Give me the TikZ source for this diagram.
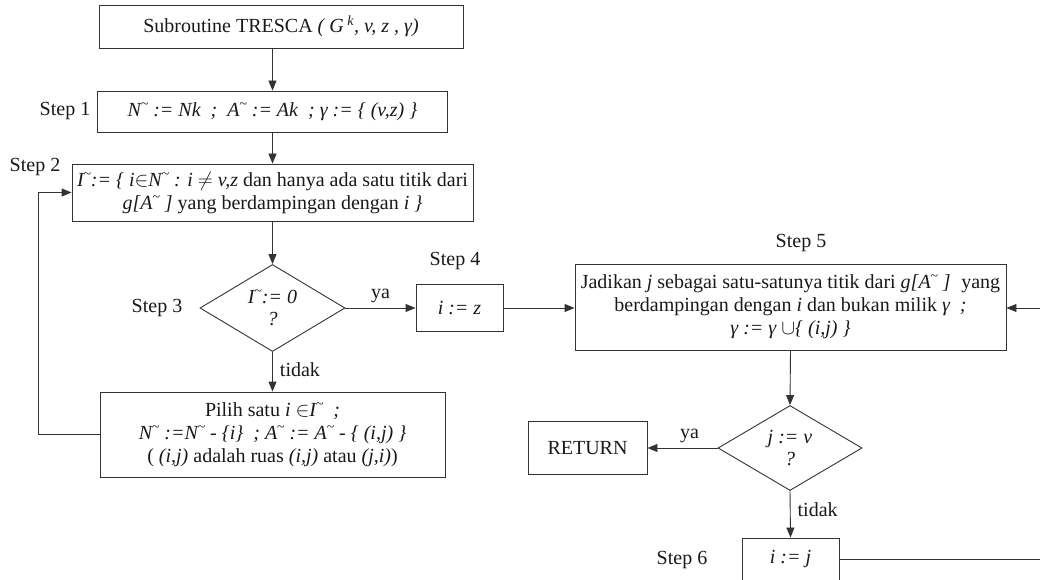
\documentclass[tikz,border=0pt]{standalone}
\usepackage{fontspec}
\setmainfont{Liberation Serif}
\usetikzlibrary{arrows.meta,shapes.geometric}
% small raised tilde placed after a letter (N~, A~, I~)
\newcommand\tld{\kern-0.3pt\raisebox{0.40em}{\fontsize{14}{14}\selectfont\textasciitilde}}
\begin{document}
\begin{tikzpicture}[x=1pt,y=-1pt,
  every node/.style={font=\fontsize{20}{23}\selectfont, text=black!90},
  box/.style={draw=black!80, line width=0.9pt, rectangle, align=center, inner sep=0pt},
  decision/.style={draw=black!80, line width=0.9pt, diamond, align=center, inner sep=0pt},
  flow/.style={draw=black!80, line width=0.9pt, -{Triangle[length=10pt,width=8pt]}},
  lbl/.style={inner sep=0pt}]
\useasboundingbox (0,0) rectangle (1040,580);
\clip (0,0) rectangle (1040,580);

% boxes and decisions
\node[box, minimum width=364, minimum height=43] (start) at (281,26.5)
  {Subroutine TRESCA \textit{( G\textsuperscript{ k}, v, z , γ)}};
\node[box, minimum width=350, minimum height=41] (s1) at (272.5,111.5)
  {\textit{N\tld{} := Nk\enspace;\enspace A\tld{} := Ak\enspace; γ := \{ (v,z) \}}};
\node[box, minimum width=401, minimum height=57] (s2) at (272.5,192.5)
  {\textit{I\tld{}:= \{ i$\in$N\tld{} : i $\neq$ v,z} dan hanya ada satu titik dari\\
   \textit{g[A\tld{} ]} yang berdampingan dengan \textit{i \}}};
\node[decision, minimum width=145, minimum height=87] (d1) at (272.5,308)
  {\textit{I\tld{}:= 0}\\[-1pt]\textit{?}};
\node[box, minimum width=87, minimum height=47] (s4) at (459.5,308) {\textit{i := z}};
\node[box, minimum width=431, minimum height=86] (s5) at (790.5,307)
  {Jadikan \textit{j} sebagai satu-satunya titik dari \textit{g[A\tld{} ]}\; yang\\
   berdampingan dengan \textit{i} dan bukan milik \textit{γ\enspace;}\\
   \textit{γ := γ $\cup$\{ (i,j) \}}};
\node[box, minimum width=345, minimum height=85] (b3) at (272.5,434.5)
  {Pilih satu \textit{i} $\in$\textit{I\tld{}\enspace;}\\
   \textit{N\tld{} :=N\tld{} - \{i\}\enspace; A\tld{} := A\tld{} - \{ (i,j) \}}\\
   ( \textit{(i,j)} adalah ruas \textit{(i,j)} atau \textit{(j,i)})};
\node[decision, minimum width=144, minimum height=85] (d2) at (790,448)
  {\textit{j := v}\\[-1pt]\textit{?}};
\node[box, minimum width=119, minimum height=53] (ret) at (587.5,448) {RETURN};
\node[box, minimum width=97, minimum height=43] (s6) at (790.5,559.5) {\textit{i := j}};

% step labels
\node[lbl] (l1) at (65,111) {Step 1};
\node[lbl] (l2) at (35,167) {Step 2};
\node[lbl] (l3) at (157,308) {Step 3};
\node[lbl] (l4) at (455,261) {Step 4};
\node[lbl] (l5) at (801,243) {Step 5};
\node[lbl] (l6) at (682,560) {Step 6};

% main flow
\draw[flow] (start.south -| s1.north) -- (s1.north);
\draw[flow] (s1) -- (s2);
\draw[flow] (s2) -- (d1);
\draw[flow] (d1.east) -- node[lbl, above=5pt] (ya1) {ya} (s4.west);
\draw[flow] (s4.east) -- (s5.west |- s4.east);
\draw[flow] (d1.south) -- node[lbl, right=7pt, pos=0.45] (t1) {tidak} (b3.north);
\draw[flow] (s5.south) -- (d2.north);
\draw[flow] (d2.west) -- node[lbl, above=5pt, pos=0.4] (ya2) {ya} (ret.east);
\draw[flow] (d2.south) -- node[lbl, right=7pt, pos=0.4] (t2) {tidak} (s6.north);

% loops back
\coordinate (lw1) at (38,434.5);
\coordinate (lw2) at (38,192.5);
\draw[flow] (b3.west) -- (lw1) -- (lw2) -- (s2.west);
\coordinate (re1) at (1060,559.5);
\coordinate (re2) at (1060,308);
\draw[flow] (s6.east) -- (re1) -- (re2) -- (s5.east |- re2);
\end{tikzpicture}
\end{document}
